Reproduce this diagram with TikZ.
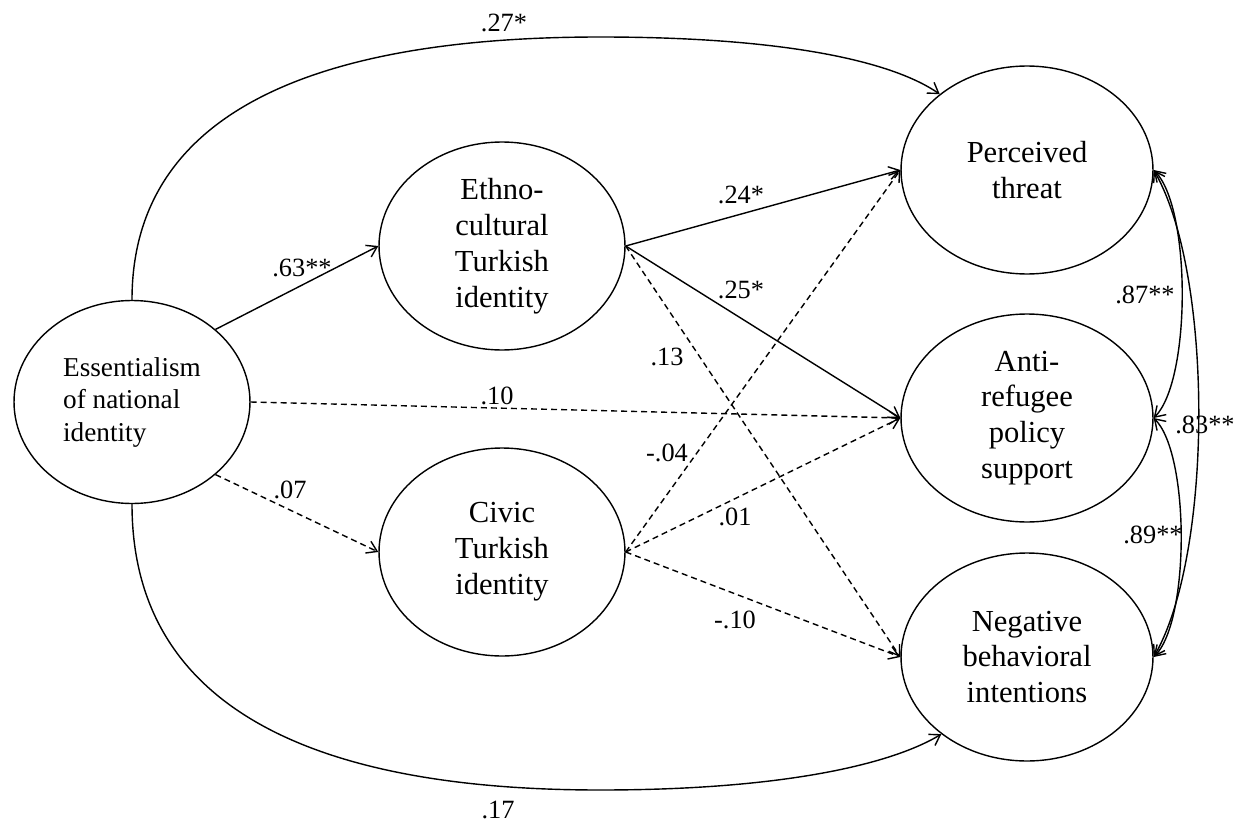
\documentclass[tikz,border=0pt]{standalone}
\usepackage{fontspec}
\setmainfont{Liberation Serif}
\usepackage{tikz}
\usetikzlibrary{shapes.geometric,arrows.meta}

\begin{document}
\begin{tikzpicture}[x=0.02cm, y=0.02cm, >={Straight Barb[length=2mm,width=2.6mm]}, line width=0.8pt,
    var/.style={ellipse, draw, inner sep=0pt, minimum width=4.92cm, minimum height=4.16cm,
        align=center, font=\fontsize{17.4}{20.4}\selectfont},
    coef/.style={inner sep=0pt, font=\fontsize{15}{18}\selectfont},
    ns/.style={dash pattern=on 3.4pt off 2.3pt}]

        \useasboundingbox (0,0) rectangle (1234,823);

        % Predictor (left)
        \node[var, minimum width=4.72cm, minimum height=4.06cm, align=left,
            font=\fontsize{15.5}{18.5}\selectfont] (ess) at (132,421) {Essentialism\\of national\\identity};

        % Mediators (middle)
        \node[var] (eth) at (502,577) {Ethno-\\cultural\\Turkish\\identity};
        \node[var] (civ) at (502,271) {Civic\\Turkish\\identity};

        % Outcomes (right)
        \node[var, minimum width=5.04cm] (thr) at (1027,653) {Perceived\\threat};
        \node[var, minimum width=5.04cm] (ref) at (1027,405) {Anti-\\refugee\\policy\\support};
        \node[var, minimum width=5.04cm] (neg) at (1027,166) {Negative\\behavioral\\intentions};

        % Direct paths
        \draw[->] (ess.north) .. controls (132,703) and (300,786) .. (600,786)
            .. controls (780,786) and (890,763) .. (thr.139);
        \draw[->] (ess.south) .. controls (132,123) and (300,33) .. (600,33)
            .. controls (780,33) and (890,58) .. (neg.222);
        \draw[->, ns] (ess.east) -- (ref.west);

        % Paths to the mediators
        \draw[->] (ess.41) -- (eth.west);
        \draw[->, ns] (ess.319) -- (civ.west);

        % Paths from the mediators
        \draw[->] (eth.east) -- (thr.west);
        \draw[->] (eth.east) -- (ref.west);
        \draw[->, ns] (eth.east) -- (neg.west);
        \draw[->, ns] (civ.east) -- (thr.west);
        \draw[->, ns] (civ.east) -- (ref.west);
        \draw[->, ns] (civ.east) -- (neg.west);

        % Correlations between outcomes
        \draw[<->] (thr.east) to[out=-45, in=45, looseness=0.55] (ref.east);
        \draw[<->] (ref.east) to[out=-45, in=45, looseness=0.55] (neg.east);
        \draw[<->] (thr.east) to[out=-60, in=60, looseness=0.63] (neg.east);

        % Coefficients
        \node[coef] (c27) at (504,800) {.27*};
        \node[coef] (c17) at (498,13) {.17};
        \node[coef] (c63) at (302,555) {.63**};
        \node[coef] (c07) at (290,333) {.07};
        \node[coef] (c10) at (497,427) {.10};
        \node[coef] (c24) at (741,628) {.24*};
        \node[coef] (c25) at (741,533) {.25*};
        \node[coef] (c13) at (667,466) {.13};
        \node[coef] (cm04) at (667,370) {-.04};
        \node[coef] (c01) at (735,306) {.01};
        \node[coef] (cm10) at (735,203) {-.10};
        \node[coef] (c87) at (1145,528) {.87**};
        \node[coef] (c89) at (1153,288) {.89**};
        \node[coef] (c83) at (1205,398) {.83**};

    \end{tikzpicture}
\end{document}
